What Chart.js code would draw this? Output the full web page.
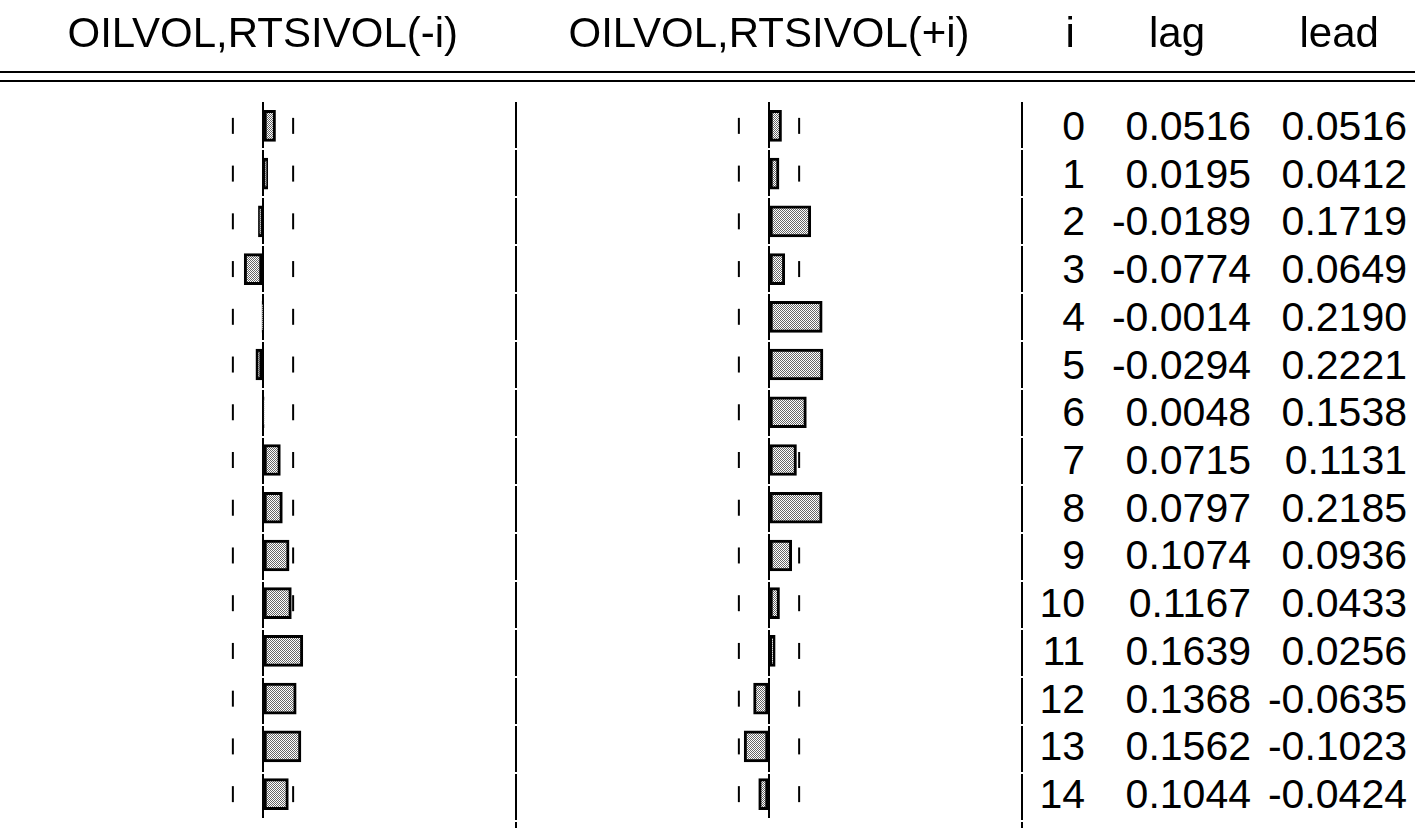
<!DOCTYPE html>
<html>
<head>
<meta charset="utf-8">
<title>Cross correlogram</title>
<script src="https://cdn.jsdelivr.net/npm/chart.js@4.4.1/dist/chart.umd.min.js"></script>
<style>
body { margin: 0; background: #fff; }
#wrap { position: relative; width: 1415px; height: 828px; overflow: hidden; font-family: "Liberation Sans", Arial, sans-serif; color: #000; }
#cL { position: absolute; left: 10px; top: 0; }
#cR { position: absolute; left: 516px; top: 0; }
.rule { position: absolute; left: 0; width: 1415px; height: 2px; background: #000; }
.sep { position: absolute; top: 102px; bottom: 0; width: 2px;
       background: repeating-linear-gradient(to bottom, #000 0 46px, transparent 46px 48px); }
.txt { position: absolute; height: 48px; line-height: 48px; font-size: 41px; white-space: nowrap; }
.hd { font-size: 42px; }
</style>
</head>
<body>
<div id="wrap">
  <canvas id="cL" width="506" height="828"></canvas>
  <canvas id="cR" width="506" height="828"></canvas>
  <div class="rule" style="top:71px"></div>
  <div class="rule" style="top:80px"></div>
  <div class="sep" style="left:515px"></div>
  <div class="sep" style="left:1021px"></div>
</div>
<script>
// cross correlogram of OILVOL and RTSIVOL
const lags = [0, 1, 2, 3, 4, 5, 6, 7, 8, 9, 10, 11, 12, 13, 14];
const lagCorr = [0.0516, 0.0195, -0.0189, -0.0774, -0.0014, -0.0294, 0.0048, 0.0715,
                 0.0797, 0.1074, 0.1167, 0.1639, 0.1368, 0.1562, 0.1044];
const leadCorr = [0.0516, 0.0412, 0.1719, 0.0649, 0.2190, 0.2221, 0.1538, 0.1131,
                  0.2185, 0.0936, 0.0433, 0.0256, -0.0635, -0.1023, -0.0424];
const bound = 0.124;   // approx. 2/sqrt(T) band
const titles = ['OILVOL,RTSIVOL(-i)', 'OILVOL,RTSIVOL(+i)'];
const colHeads = ['i', 'lag', 'lead'];

const labels = lags.map(String);

// grey dither fill like the EViews bars
function makeFill(ctx) {
    const pc = document.createElement('canvas');
    pc.width = 2; pc.height = 2;
    const p = pc.getContext('2d');
    p.fillStyle = '#fff';
    p.fillRect(0, 0, 2, 2);
    p.fillStyle = '#666';
    p.fillRect(0, 0, 1, 1);
    p.fillRect(1, 1, 1, 1);
    return ctx.createPattern(pc, 'repeat');
}

function boundSet(v) {
    return {
        type: 'scatter',
        data: labels.map(l => ({ x: v, y: l })),
        pointStyle: 'line',
        rotation: 90,
        radius: 8,
        hoverRadius: 8,
        borderWidth: 2,
        borderColor: '#000',
        order: 2
    };
}

function makeChart(id, values) {
    const canvas = document.getElementById(id);
    const fill = makeFill(canvas.getContext('2d'));
    return new Chart(canvas, {
        type: 'bar',
        data: {
            labels: labels,
            datasets: [{
                data: values,
                backgroundColor: fill,
                borderColor: '#000',
                borderWidth: 3,
                borderSkipped: false,
                barThickness: 31,
                order: 1
            }, boundSet(-bound), boundSet(bound)]
        },
        options: {
            responsive: false,
            animation: false,
            indexAxis: 'y',
            layout: { padding: { top: 102, bottom: 6, left: 3, right: 3 } },
            plugins: { legend: { display: false }, tooltip: { enabled: false } },
            scales: {
                x: {
                    min: -1, max: 1,
                    ticks: { display: false, stepSize: 1 },
                    grid: {
                        drawTicks: false,
                        lineWidth: 2,
                        color: c => (c.tick && c.tick.value === 0) ? '#000' : 'rgba(0,0,0,0)'
                    },
                    border: { display: false, dash: [46, 2] },
                    afterFit: s => { s.height = 0; }
                },
                y: { display: false }
            }
        }
    });
}

const chartL = makeChart('cL', lagCorr);
const chartR = makeChart('cR', leadCorr);

// text parts, positioned off the chart scales
const wrap = document.getElementById('wrap');
function addText(txt, cls, style) {
    const d = document.createElement('div');
    d.className = cls;
    d.textContent = txt;
    Object.assign(d.style, style);
    wrap.appendChild(d);
    return d;
}

function centerHead(txt, cx) {
    const d = addText(txt, 'txt hd', { top: '9px', left: '0px' });
    d.style.left = (cx - d.offsetWidth / 2) + 'px';
}
centerHead(titles[0], 10 + chartL.scales.x.getPixelForValue(0));
centerHead(titles[1], 516 + chartR.scales.x.getPixelForValue(0));
centerHead(colHeads[0], 1070);
centerHead(colHeads[1], 1177);
centerHead(colHeads[2], 1339);

const rightEdges = [1085, 1251, 1407];
lags.forEach((l, k) => {
    const y = chartR.scales.y.getPixelForValue(k) - 24;
    const cells = [String(l), lagCorr[k].toFixed(4), leadCorr[k].toFixed(4)];
    cells.forEach((c, j) => {
        addText(c, 'txt', { top: y + 'px', right: (1415 - rightEdges[j]) + 'px', textAlign: 'right' });
    });
});
</script>
</body>
</html>
